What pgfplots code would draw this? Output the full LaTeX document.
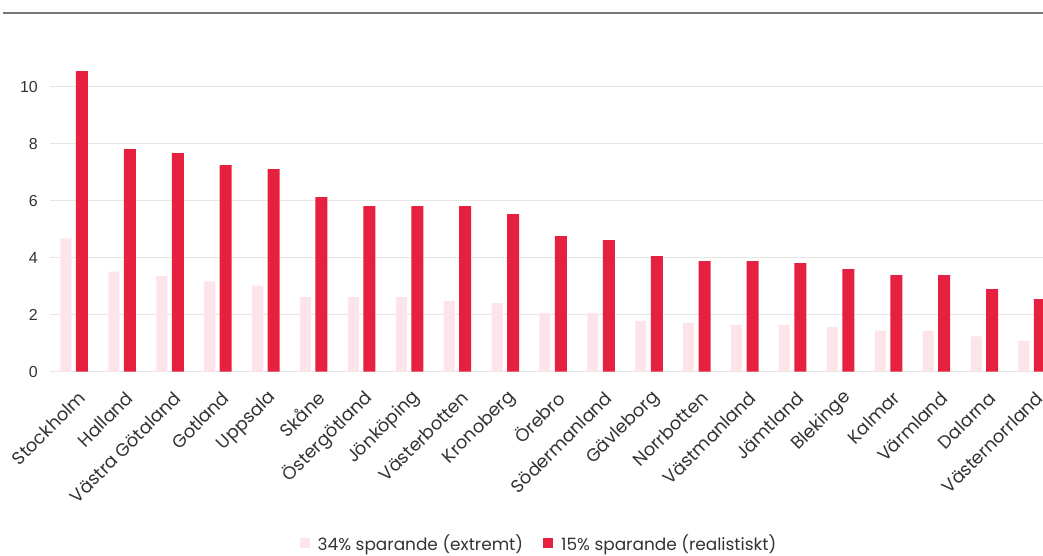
\documentclass[border=0pt]{standalone}
\usepackage{fontspec}
\setmainfont{Poppins}
\newfontfamily\tickfont{Liberation Sans}
\usepackage{pgfplots}
\pgfplotsset{compat=1.18}
\usepackage{pgfplotstable}
\definecolor{barred}{RGB}{230,33,64}
\definecolor{barpink}{RGB}{252,228,232}
\definecolor{gridgray}{RGB}{232,229,229}
\definecolor{txt}{RGB}{51,51,51}
\definecolor{topline}{RGB}{118,118,118}
\pgfplotstableread{
x a b
0 4.68 10.55
1 3.51 7.81
2 3.36 7.67
3 3.17 7.25
4 3.02 7.11
5 2.62 6.13
6 2.62 5.81
7 2.62 5.81
8 2.48 5.81
9 2.41 5.53
10 2.06 4.76
11 2.06 4.62
12 1.78 4.06
13 1.71 3.88
14 1.64 3.88
15 1.64 3.81
16 1.57 3.60
17 1.44 3.39
18 1.44 3.39
19 1.24 2.90
20 1.09 2.55
}\data
\begin{document}
\begin{tikzpicture}
\begin{axis}[
  scale only axis, width=993bp, height=358.7bp,
  xmin=-0.5, xmax=20.23, ymin=0, ymax=12.59,
  axis line style={draw=none},
  major tick length=0pt,
  ymajorgrids, grid style={gridgray, line width=1.2bp},
  ytick={0,2,...,10},
  /pgf/number format/assume math mode=true,
  yticklabel style={font=\tickfont\fontsize{16}{16}\selectfont, text=txt, inner sep=0pt, xshift=-12bp},
  xtick={0,...,20},
  xticklabels={Stockholm,Halland,Västra Götaland,Gotland,Uppsala,Skåne,Östergötland,Jönköping,Västerbotten,Kronoberg,Örebro,Södermanland,Gävleborg,Norrbotten,Västmanland,Jämtland,Blekinge,Kalmar,Värmland,Dalarna,Västernorrland},
  xticklabel style={font=\fontsize{18}{18}\selectfont, text=txt, inner sep=0pt, xshift=8bp, yshift=-23bp, rotate=45, anchor=east},
  legend columns=2,
  legend style={at={(0.4924,-0.478)}, anchor=center, draw=none, font=\fontsize{17}{17}\selectfont, text=txt,
    /tikz/every odd column/.append style={column sep=6bp},
    /tikz/every even column/.append style={column sep=18bp}},
  legend image code/.code={\fill[#1] (0bp,-5bp) rectangle (10bp,5bp);},
]
\addplot[ybar, bar width=11bp, bar shift=-8bp, fill=barpink, draw=none] table[x=x,y=a]{\data};
\addlegendentry{34\% sparande (extremt)}
\addplot[ybar, bar width=12bp, bar shift=8bp, fill=barred, draw=none] table[x=x,y=b]{\data};
\addlegendentry{15\% sparande (realistiskt)}
\coordinate (TL) at (rel axis cs:0,1);
\coordinate (BR) at (rel axis cs:1,0);
\end{axis}
\draw[topline, line width=1.6bp] ([xshift=-47bp]TL) -- (TL -| BR);
\pgfresetboundingbox
\path ([xshift=-50bp,yshift=13bp]TL) rectangle ([yshift=-184.3bp]BR);
\end{tikzpicture}
\end{document}
